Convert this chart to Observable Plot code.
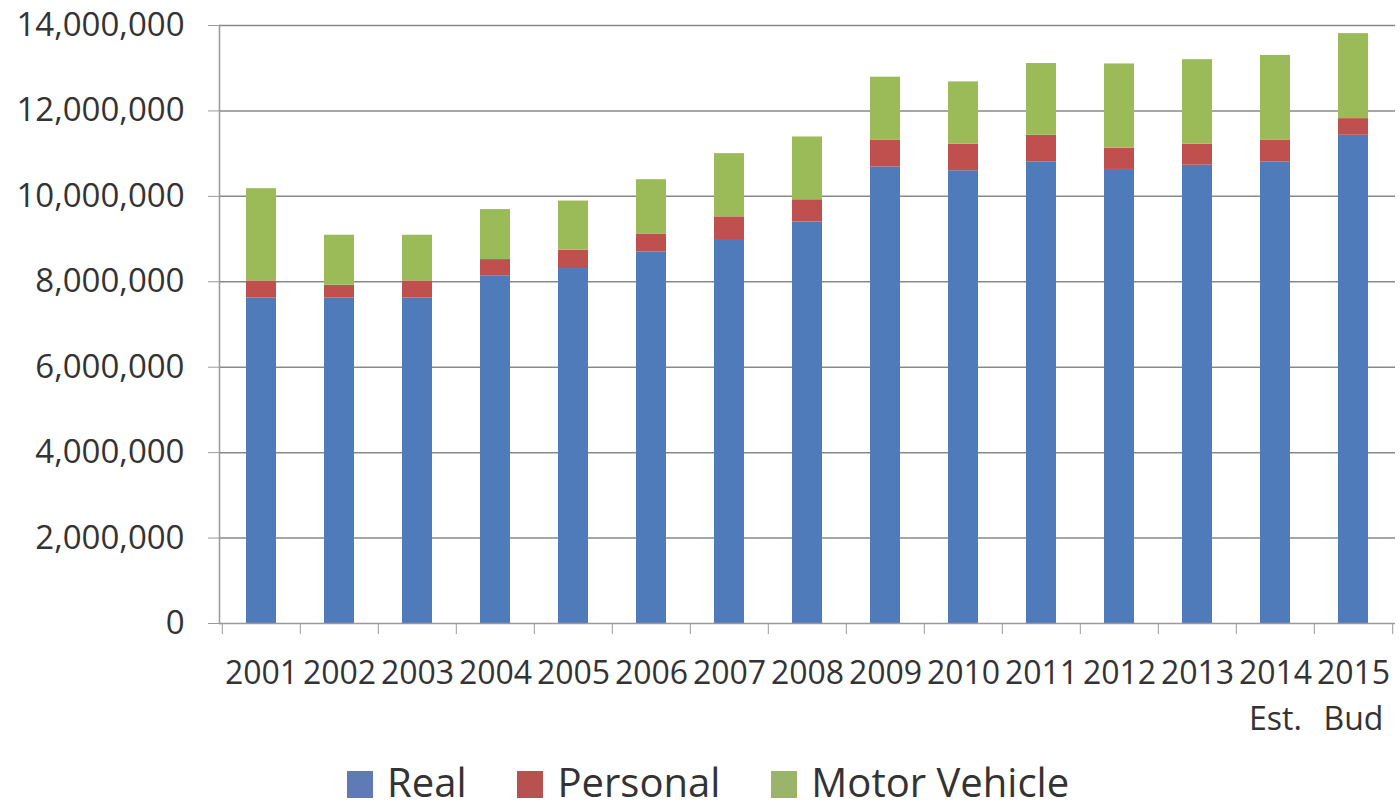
<!DOCTYPE html>
<html>
<head>
<meta charset="utf-8">
<script src="https://cdn.jsdelivr.net/npm/d3@7"></script>
<script src="https://cdn.jsdelivr.net/npm/@observablehq/plot@0.6"></script>
<style>
  html, body { margin: 0; padding: 0; background: #fff; }
  #chart svg { display: block; }
  .legend { display: flex; align-items: flex-start; height: 49px; padding-top: 12px; padding-left: 347px; gap: 51px;
            font-family: "Open Sans", sans-serif; font-size: 40px; line-height: 40px; color: #333; }
  .legend .item { display: flex; align-items: flex-start; gap: 14px; }
  .legend .sw { width: 26px; height: 27px; display: inline-block; margin-top: 9px; }
</style>
</head>
<body>
<div id="chart"></div>
<div class="legend" id="legend"></div>
<script>
const years = ["2001","2002","2003","2004","2005","2006","2007","2008","2009","2010","2011","2012","2013","2014","2015"];
const subLabels = ["","","","","","","","","","","","","","Est.","Bud"];
const real     = [7620000, 7620000, 7620000, 8130000, 8310000, 8700000, 8990000, 9400000, 10690000, 10600000, 10800000, 10630000, 10730000, 10800000, 11430000];
const personal = [400000, 300000, 400000, 390000, 430000, 420000, 530000, 520000, 620000, 620000, 630000, 500000, 490000, 510000, 390000];
const motor    = [2160000, 1170000, 1070000, 1170000, 1150000, 1270000, 1480000, 1470000, 1480000, 1460000, 1680000, 1970000, 1980000, 1990000, 1990000];
const seriesNames = ["Real", "Personal", "Motor Vehicle"];
const seriesColors = ["#4f7bbb", "#c0504d", "#9bbb59"];
const legendColors = ["#5f7ab5", "#b85250", "#9ab46a"];
const yTicks = [0, 2000000, 4000000, 6000000, 8000000, 10000000, 12000000, 14000000];

const seriesValues = [real, personal, motor];
const data = [];
years.forEach((yr, i) => {
  seriesNames.forEach((s, j) => data.push({year: yr, series: s, value: seriesValues[j][i]}));
});

const W = 1400, H = 750, mL = 219, mR = 5, mT = 25, mB = 127;
const step = (W - mL - mR) / years.length;
const font = "'Open Sans', sans-serif";

const plot = Plot.plot({
  width: W, height: H,
  marginLeft: mL, marginRight: mR, marginTop: mT, marginBottom: mB,
  style: {fontFamily: font, background: "#fff", color: "#333"},
  x: {type: "band", domain: years, paddingInner: 0.61, paddingOuter: 0.305, label: null},
  y: {domain: [0, 14000000], label: null},
  color: {domain: seriesNames, range: seriesColors},
  marks: [
    Plot.gridY({ticks: yTicks.slice(1), stroke: "#888", strokeOpacity: 1, strokeWidth: 1.5}),
    Plot.barY(data, {x: "year", y: "value", fill: "series", order: seriesNames}),
    Plot.frame({anchor: "left", stroke: "#999", strokeWidth: 1.5}),
    Plot.ruleY([0], {stroke: "#999", strokeWidth: 1.5}),
    Plot.axisY({ticks: yTicks, tickFormat: d3.format(","), tickSize: 11, tickPadding: 24,
                fontSize: 33, stroke: "#999", fill: "#333", label: null}),
    Plot.axisX({ticks: years, tickSize: 11, tickFormat: () => "", dx: -step / 2, stroke: "#999", label: null}),
    Plot.axisX({ticks: [years[years.length - 1]], tickSize: 11, tickFormat: () => "", dx: step / 2, stroke: "#999", label: null}),
    Plot.axisX({ticks: years, tickSize: 0, tickPadding: 28, fontSize: 32, fill: "#333", label: null,
                lineHeight: 1.44,
                tickFormat: d => subLabels[years.indexOf(d)] ? d + "\n" + subLabels[years.indexOf(d)] : d})
  ]
});
document.getElementById("chart").appendChild(plot);

const legend = document.getElementById("legend");
seriesNames.forEach((s, j) => {
  const item = document.createElement("div");
  item.className = "item";
  const sw = document.createElement("span");
  sw.className = "sw";
  sw.style.background = legendColors[j];
  const t = document.createElement("span");
  t.textContent = s;
  item.appendChild(sw); item.appendChild(t);
  legend.appendChild(item);
});
</script>
</body>
</html>
